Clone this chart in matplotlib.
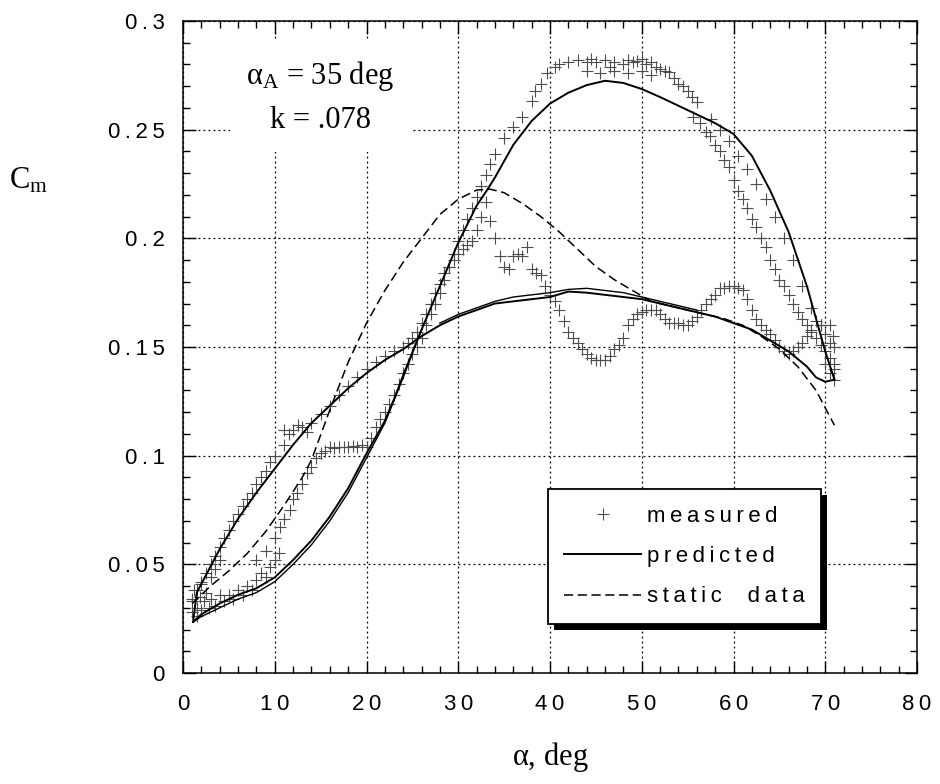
import matplotlib
matplotlib.use('Agg')
import matplotlib.pyplot as plt
from matplotlib.ticker import MultipleLocator, FuncFormatter
from matplotlib.patches import Rectangle

plt.rcParams['mathtext.fontset'] = 'custom'
plt.rcParams['mathtext.rm'] = 'Liberation Serif'
plt.rcParams['mathtext.it'] = 'Liberation Serif:italic'

SANS = ['Liberation Sans', 'DejaVu Sans']
THIN = '\u2009'   # letter spacing like the original print

#---------------------------------------------
# data
#---------------------------------------------
# measured, upstroke (alpha increasing)
meas_up_alpha = [1.0, 1.0, 1.2, 1.5, 1.5, 1.8, 2.0, 2.0, 2.3, 2.5, 2.8, 3.0, 3.0, 3.5, 3.5, 4.0, 4.0,
                 4.5, 5.0, 5.5, 6.0, 6.5, 7.0, 7.5, 8.0, 8.5, 9.0, 9.5, 10.0, 10.5,
                 8.0, 9.0, 10.0, 10.6, 11.0, 11.7, 12.0, 12.4, 13.0, 13.5, 14.0, 14.5, 15.0, 15.5,
                 16.0, 16.5, 17.0, 17.5, 18.0, 18.5, 19.0, 19.5, 20.0, 20.5, 21.0, 21.5, 22.0, 22.5,
                 23.0, 23.5, 24.0, 24.5, 25.0, 25.5, 26.0, 26.5, 27.0, 27.5, 28.0, 28.5, 29.0, 29.5,
                 30.0, 30.5, 31.0, 31.5, 32.0, 32.5, 33.0, 33.5, 34.0, 35.0, 36.0, 37.0, 38.0, 38.4,
                 39.0, 39.7, 40.5, 41.0, 42.0, 43.0, 44.0, 44.5, 45.0, 46.0, 46.5, 47.0, 48.0, 48.5,
                 49.0, 49.5, 50.0, 50.5, 51.0, 51.5, 52.0, 52.5, 53.0, 53.5, 54.0, 54.5, 55.0, 55.5,
                 56.0, 55.6, 56.3, 57.0, 57.4, 58.0, 58.5, 59.0, 59.5, 60.0, 60.5, 61.0, 61.5, 62.0,
                 62.5, 63.0, 63.5, 64.0, 64.5, 65.0, 65.5, 66.0, 66.5, 67.0, 67.5, 68.0, 68.5, 69.0,
                 69.5, 70.0, 70.5, 71.0,
                 44.0, 45.5, 47.0, 48.5, 50.0, 51.0,
                 57.5, 58.5, 59.5, 60.5, 61.5, 62.5, 63.5, 64.5, 65.5, 66.5, 67.5, 68.5, 69.5, 70.5]
meas_up_cm = [0.028, 0.033, 0.038, 0.030, 0.026, 0.035, 0.029, 0.041, 0.033, 0.037, 0.030, 0.044, 0.034, 0.031, 0.048, 0.036, 0.052,
              0.033, 0.036, 0.034, 0.038, 0.036, 0.040, 0.038, 0.043, 0.046, 0.044, 0.049, 0.052, 0.055,
              0.052, 0.056, 0.062, 0.067, 0.071, 0.075, 0.080, 0.083, 0.087, 0.092, 0.095, 0.099, 0.101, 0.102,
              0.104, 0.1035, 0.104, 0.104, 0.104, 0.1045, 0.104, 0.105, 0.104, 0.108, 0.113, 0.117, 0.120, 0.124,
              0.128, 0.133, 0.138, 0.142, 0.147, 0.150, 0.154, 0.160, 0.165, 0.170, 0.175, 0.181, 0.187, 0.193,
              0.199, 0.204, 0.209, 0.214, 0.219, 0.224, 0.229, 0.234, 0.239, 0.246, 0.251, 0.256, 0.263, 0.268,
              0.271, 0.276, 0.279, 0.280, 0.281, 0.282, 0.281, 0.2825, 0.281, 0.282, 0.279, 0.281, 0.280, 0.282,
              0.281, 0.2815, 0.2825, 0.280, 0.281, 0.279, 0.278, 0.277, 0.2765, 0.274, 0.271, 0.270, 0.268, 0.265,
              0.2627, 0.256, 0.253, 0.249, 0.247, 0.243, 0.240, 0.236, 0.233, 0.227, 0.222, 0.218, 0.214, 0.209,
              0.205, 0.200, 0.196, 0.190, 0.186, 0.181, 0.178, 0.174, 0.170, 0.166, 0.163, 0.160, 0.157, 0.154,
              0.151, 0.148, 0.145, 0.142,
              0.277, 0.276, 0.277, 0.276, 0.277, 0.275,
              0.255, 0.250, 0.245, 0.238, 0.232, 0.225, 0.218, 0.210, 0.200, 0.190, 0.178, 0.168, 0.160, 0.152]

# measured, downstroke (alpha decreasing)
meas_dn_alpha = [71.0, 71.0, 71.0, 70.8, 70.5, 70.5, 70.0, 70.0,
                 69.5, 69.0, 68.5, 68.0, 67.5, 67.0, 66.5, 66.0, 65.5, 65.0, 64.5, 64.0, 63.5, 63.0,
                 62.5, 62.0, 61.5, 61.0, 60.5, 60.0, 59.5, 59.0, 58.5, 58.0, 57.5, 57.0, 56.5, 56.0,
                 55.5, 55.0, 54.5, 54.0, 53.5, 53.0, 52.5, 52.0, 51.5, 51.0, 50.5, 50.0, 49.5, 49.0,
                 48.5, 48.0, 47.5, 47.0, 46.5, 46.0, 45.5, 45.0, 44.5, 44.0, 43.5, 43.0, 42.5, 42.0,
                 41.5, 41.0, 40.5, 40.0, 39.5, 39.0, 38.5, 38.0, 37.5, 37.0, 36.5, 36.0, 35.5, 35.0,
                 34.5, 34.0, 33.5, 33.0, 32.5, 32.0, 31.5, 31.0, 30.5, 30.0, 29.5, 29.0, 28.5, 28.0,
                 27.5, 27.0, 26.5, 26.0, 25.5, 25.0, 24.5, 24.0, 23.0, 22.0, 21.0, 20.0, 19.0, 18.0,
                 17.0, 16.0, 15.0, 14.0, 13.0, 12.0, 11.5, 11.0, 10.0, 9.5, 9.0, 8.5, 8.0, 7.5, 7.0,
                 6.5, 6.0, 5.5, 5.0, 4.5, 4.0, 3.5, 3.0, 2.5, 2.0, 1.5, 1.0,
                 12.5, 13.5, 11.0]
meas_dn_cm = [0.135, 0.140, 0.150, 0.155, 0.138, 0.160, 0.142, 0.156,
              0.160, 0.162, 0.158, 0.155, 0.152, 0.150, 0.148, 0.147, 0.148, 0.150, 0.153, 0.156, 0.158, 0.160,
              0.163, 0.167, 0.172, 0.176, 0.177, 0.178, 0.178, 0.177, 0.177, 0.174, 0.172, 0.170, 0.167, 0.164,
              0.162, 0.160, 0.160, 0.161, 0.161, 0.161, 0.163, 0.165, 0.167, 0.167, 0.167, 0.166, 0.165, 0.163,
              0.160, 0.154, 0.151, 0.149, 0.146, 0.144, 0.144, 0.144, 0.145, 0.147, 0.149, 0.152, 0.154, 0.157,
              0.162, 0.167, 0.171, 0.174, 0.178, 0.183, 0.184, 0.186, 0.196, 0.192, 0.193, 0.192, 0.186, 0.187,
              0.192, 0.200, 0.208, 0.2166, 0.210, 0.204, 0.199, 0.197, 0.195, 0.193, 0.190, 0.187, 0.184, 0.179,
              0.175, 0.170, 0.165, 0.161, 0.157, 0.154, 0.152, 0.150, 0.148, 0.146, 0.143, 0.140, 0.136, 0.132,
              0.128, 0.123, 0.119, 0.115, 0.113, 0.112, 0.110, 0.105, 0.100, 0.097, 0.093, 0.090, 0.087, 0.083, 0.080,
              0.077, 0.073, 0.070, 0.066, 0.062, 0.058, 0.054, 0.050, 0.046, 0.042, 0.038, 0.034,
              0.114, 0.111, 0.112]

# predicted, two cycles
pred_up_alpha = [1.1, 2, 4, 6, 8, 10, 12, 14, 16, 18, 20, 22, 23, 24, 26, 28, 30, 32, 33.2, 34, 36, 38,
                 40, 42, 44, 46, 48, 50, 52, 54, 56, 58, 60, 62, 64, 66, 68, 70, 71]
pred_up_cm = [0.0235, 0.027, 0.032, 0.036, 0.039, 0.044, 0.052, 0.061, 0.072, 0.085, 0.101, 0.116, 0.126,
              0.137, 0.158, 0.178, 0.198, 0.215, 0.2226, 0.228, 0.243, 0.254, 0.262, 0.267, 0.2705,
              0.2725, 0.2715, 0.2687, 0.265, 0.261, 0.257, 0.253, 0.248, 0.238, 0.222, 0.203, 0.178,
              0.148, 0.135]
pred_dn_alpha = [71, 70, 69, 68, 66, 64, 62, 60, 58, 56, 54, 52, 50, 48, 46, 44, 42, 40, 38, 36, 34,
                 32, 30, 28, 26, 24, 22, 20, 18, 16, 14, 12, 10, 8, 6, 4, 3, 2, 1.5, 1.1]
pred_dn_cm = [0.135, 0.134, 0.136, 0.141, 0.148, 0.153, 0.158, 0.161, 0.164, 0.166, 0.168, 0.170, 0.172,
              0.173, 0.174, 0.175, 0.1755, 0.173, 0.172, 0.171, 0.170, 0.167, 0.164, 0.160, 0.155,
              0.149, 0.144, 0.138, 0.131, 0.123, 0.115, 0.105, 0.094, 0.083, 0.071, 0.057, 0.049,
              0.041, 0.037, 0.0235]
pred2_up_alpha = [1.1, 2, 4, 6, 8, 10, 12, 14, 16, 18, 20, 22, 24, 26]
pred2_up_cm = [0.0235, 0.026, 0.030, 0.034, 0.037, 0.042, 0.050, 0.059, 0.070, 0.083, 0.099, 0.115, 0.136, 0.158]
pred2_dn_alpha = [56, 54, 52, 50, 48, 46, 44, 42, 40, 38, 36, 34, 32, 30, 28]
pred2_dn_cm = [0.167, 0.169, 0.171, 0.173, 0.175, 0.176, 0.177, 0.1765, 0.175, 0.174, 0.173, 0.171, 0.168, 0.165, 0.161]

# static data
static_alpha = [1, 2, 3, 5, 7, 9, 11, 13, 14, 16, 18, 20, 22, 24, 26, 28, 30, 32, 33.5, 35, 37, 39,
                41, 43, 45, 47, 49, 51, 53, 55, 57, 59, 61, 63, 65, 67, 69, 71]
static_cm = [0.032, 0.036, 0.040, 0.047, 0.055, 0.065, 0.077, 0.090, 0.098, 0.121, 0.143, 0.161, 0.176,
             0.189, 0.200, 0.211, 0.218, 0.2222, 0.2226, 0.221, 0.216, 0.210, 0.203, 0.195, 0.187,
             0.181, 0.176, 0.171, 0.169, 0.167, 0.165, 0.163, 0.160, 0.155, 0.149, 0.141, 0.130, 0.114]

legend_labels = ['measured', 'predicted', 'static  data']


def spaced(s):
    return THIN.join(s)


#---------------
# PLOTTING
#---------------
fig = plt.figure(figsize=(9.4, 7.84), dpi=100)
ax = fig.add_axes([183/940, 1-673/784, 734/940, 652/784])

cross = dict(ls='none', marker='+', ms=8.5, mew=0.8, color='0.3')
ax.plot(meas_up_alpha, meas_up_cm, **cross)
ax.plot(meas_dn_alpha, meas_dn_cm, label=spaced(legend_labels[0]), **cross)

ax.plot(pred_up_alpha, pred_up_cm, c='k', lw=1.4)
ax.plot(pred_dn_alpha, pred_dn_cm, c='k', lw=1.4, label=spaced(legend_labels[1]))
ax.plot(pred2_up_alpha, pred2_up_cm, c='k', lw=1.0)
ax.plot(pred2_dn_alpha, pred2_dn_cm, c='k', lw=1.0)

ax.plot(static_alpha, static_cm, c='k', lw=1.1, dashes=(6, 3), label=spaced(legend_labels[2]))

#axis limits and ticks
ax.set_xlim(0, 80)
ax.set_ylim(0, 0.3)
ax.xaxis.set_major_locator(MultipleLocator(10))
ax.xaxis.set_minor_locator(MultipleLocator(2))
ax.yaxis.set_major_locator(MultipleLocator(0.05))
ax.yaxis.set_minor_locator(MultipleLocator(0.01))
ax.xaxis.set_major_formatter(FuncFormatter(lambda v, p: spaced('%g' % v)))
ax.yaxis.set_major_formatter(FuncFormatter(lambda v, p: spaced('%g' % round(v, 3))))
ax.tick_params(which='both', direction='in', top=True, right=True, width=1.0, color='k')
ax.tick_params(which='major', length=9)
ax.tick_params(which='minor', length=5)
ax.tick_params(axis='y', which='major', pad=13, labelsize=16)
ax.tick_params(axis='x', which='major', pad=15, labelsize=16)
for lab in ax.get_xticklabels() + ax.get_yticklabels():
    lab.set_fontfamily(SANS)
for s in ax.spines.values():
    s.set_linewidth(1.1)
ax.grid(True, which='major', ls=(0, (1.5, 2.5)), lw=0.9, color='k')
ax.set_axisbelow(True)

#labels
fig.text(28/940, 1-181/784, r'$\mathregular{C_m}$', fontsize=22, ha='center', va='center',
         family='Liberation Serif')
fig.text(550/940, 1-757/784, r'$\mathregular{\alpha}$, deg', fontsize=22, ha='center', va='center',
         family='Liberation Serif')

#annotation
ax.text(15.0, 0.265, '$\\mathregular{\\alpha_A}$ = 35 deg\nk = .078', fontsize=22, ha='center',
        va='center', family='Liberation Serif', linespacing=1.63,
        bbox=dict(facecolor='white', edgecolor='none', pad=12))

#legend
leg = ax.legend(loc='lower left', bbox_to_anchor=(0.497, 0.075), frameon=True,
                fancybox=False, edgecolor='k', framealpha=1, numpoints=1, handlelength=3.45,
                handletextpad=0.25, labelspacing=0.87, borderpad=0.75, borderaxespad=0,
                prop={'family': SANS, 'size': 16})
leg.get_frame().set_linewidth(1.3)
leg.set_zorder(5)
fig.canvas.draw()
bb = leg.get_window_extent()
shadow = Rectangle((bb.x0 + 6, bb.y0 - 6), bb.width, bb.height, transform=None,
                   facecolor='k', edgecolor='none', zorder=4.9, clip_on=False)
ax.add_artist(shadow)

fig.savefig('out.png', dpi=100)
